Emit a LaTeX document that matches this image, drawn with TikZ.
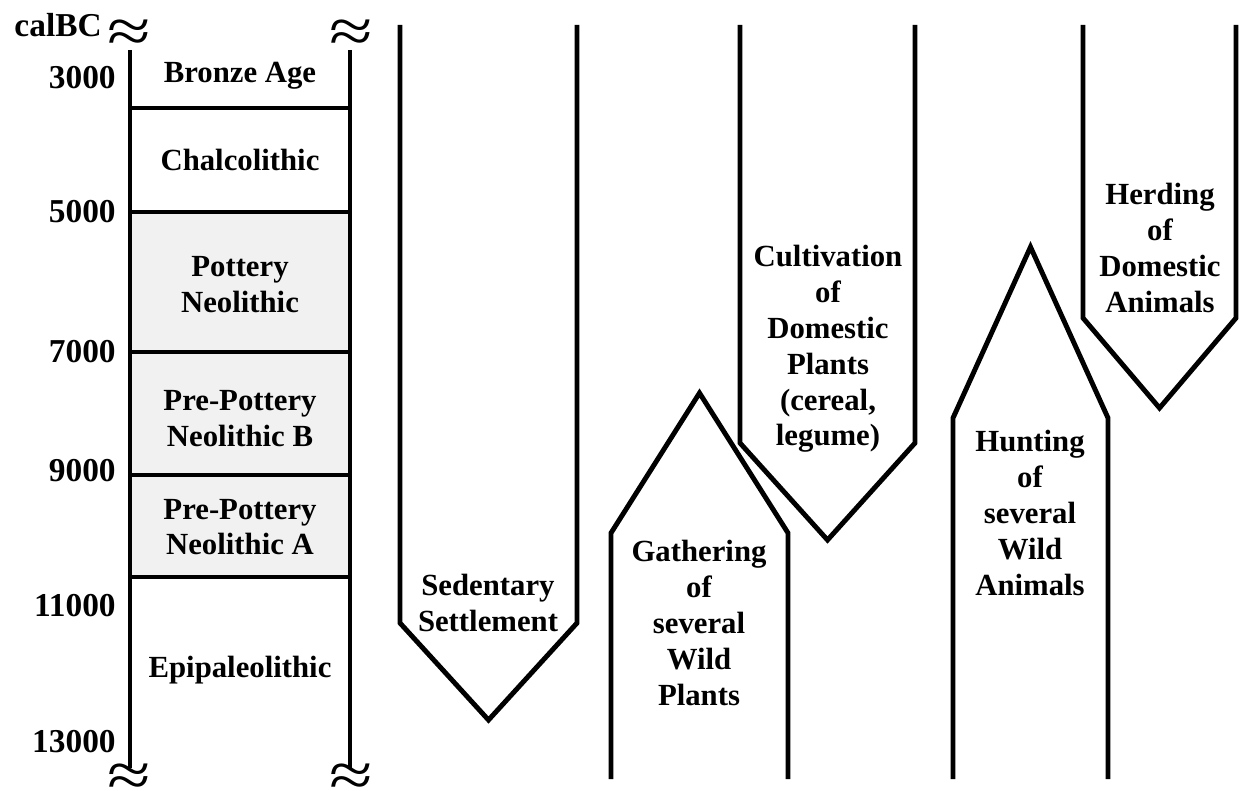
\documentclass[tikz,border=0pt]{standalone}
\usepackage{fontspec}
\setmainfont{Liberation Serif}
\usetikzlibrary{positioning}
\tikzset{
  periodln/.style={line width=2pt},
  arrowln/.style={line width=2.8pt, line join=miter},
  lbl/.style={font=\fontsize{17.5}{20.4}\selectfont\bfseries, align=center, inner sep=0pt},
  yearlbl/.style={font=\fontsize{19}{22}\selectfont\bfseries, anchor=east, inner sep=0pt},
  brk/.style={font=\fontsize{36}{36}\selectfont, inner sep=0pt, xscale=1.25},
}
% arrow pointing down: left x, right x, shoulder y, tip y
\newcommand{\dnarrow}[4]{%
  \draw[arrowln] (#1,25) -- (#1,#3) -- ({(#1+#2)/2},#4) -- (#2,#3) -- (#2,25);
}
% arrow pointing up: left x, right x, shoulder y, tip y
\newcommand{\uparrowbox}[4]{%
  \draw[arrowln] (#1,779) -- (#1,#3) -- ({(#1+#2)/2},#4) -- (#2,#3) -- (#2,779);
}
\definecolor{neogray}{RGB}{241,241,241}

\begin{document}
\begin{tikzpicture}[x=0.02cm, y=-0.02cm]
    \useasboundingbox (0,0) rectangle (1239,790);
    % Period column
    \fill[neogray] (130,212) rectangle (350,577);
    \draw[periodln] (130,50) -- (130,768);
    \draw[periodln] (350,50) -- (350,768);
    \foreach \yy in {108,212,352,475,577}
      \draw[periodln] (130,\yy) -- (350,\yy);
    \node[brk] (brktl) at (129,36) {≈};
    \node[brk] (brktr) at (351,36) {≈};
    \node[brk] (brkbl) at (129,780) {≈};
    \node[brk] (brkbr) at (351,780) {≈};
    \node[yearlbl] (calbc) at (102,25) {calBC};
    \node[yearlbl] (y3000) at (116,78) {3000};
    \node[yearlbl] (y5000) at (116,212) {5000};
    \node[yearlbl] (y7000) at (116,352) {7000};
    \node[yearlbl] (y9000) at (116,471) {9000};
    \node[yearlbl] (y11000) at (116,606) {11000};
    \node[yearlbl] (y13000) at (116,742) {13000};
    \node[lbl] (bronze) at (240,76) {Bronze Age};
    \node[lbl] (chalco) at (240,160) {Chalcolithic};
    \node[lbl] (potneo) at (240,285) {Pottery\\Neolithic};
    \node[lbl] (ppnb) at (240,419) {Pre-Pottery\\Neolithic B};
    \node[lbl] (ppna) at (240,527) {Pre-Pottery\\Neolithic A};
    \node[lbl] (epipal) at (240,670) {Epipaleolithic};
    % Arrows
    \dnarrow{400}{577}{623}{720}
    \node[lbl] (sedent) at (488,603) {Sedentary\\Settlement};
    \uparrowbox{611}{788}{533}{393}
    \node[lbl] (gather) at (699,623) {Gathering\\of\\several\\Wild\\Plants};
    \dnarrow{740}{915}{443}{540}
    \node[lbl] (cultiv) at (828,349) {Cultivation\\of\\Domestic\\Plants\\(cereal,\\legume)};
    \uparrowbox{953}{1108}{418}{247}
    \node[lbl] (hunt) at (1030,513) {Hunting\\of\\several\\Wild\\Animals};
    \dnarrow{1083}{1236}{318}{408}
    \node[lbl] (herd) at (1160,248) {Herding\\of\\Domestic\\Animals};
\end{tikzpicture}
\end{document}
